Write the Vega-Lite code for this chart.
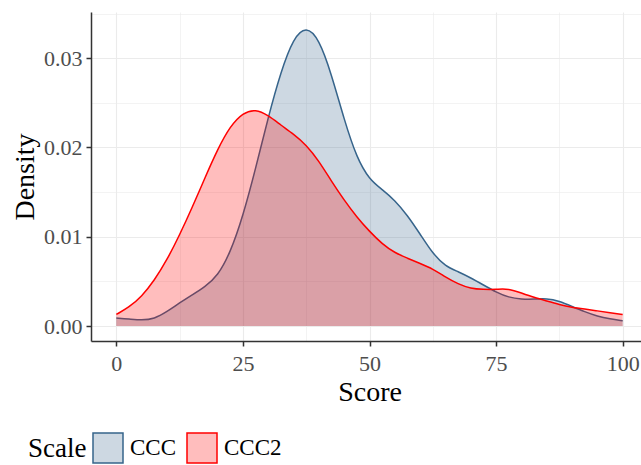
{
  "$schema": "https://vega.github.io/schema/vega-lite/v6.json",
  "autosize": {"type": "none"},
  "padding": {"left": 91, "top": 12, "right": 0, "bottom": 124},
  "width": 557,
  "height": 329,
  "background": "white",
  "config": {
    "font": "Liberation Serif",
    "view": {"stroke": null},
    "axis": {
      "gridColor": "#ebebeb",
      "labelFont": "Liberation Serif",
      "titleFont": "Liberation Serif",
      "titleFontWeight": "normal",
      "titleColor": "#000000",
      "labelColor": "#4d4d4d",
      "domainColor": "#333333",
      "tickColor": "#333333"
    }
  },
  "data": {
    "values": [
      {"Scale": "CCC", "Score": 0, "Density": 0.0009},
      {"Scale": "CCC", "Score": 2.5, "Density": 0.0008},
      {"Scale": "CCC", "Score": 5, "Density": 0.00065},
      {"Scale": "CCC", "Score": 7.5, "Density": 0.0008},
      {"Scale": "CCC", "Score": 10, "Density": 0.0016},
      {"Scale": "CCC", "Score": 12.5, "Density": 0.0026},
      {"Scale": "CCC", "Score": 15, "Density": 0.0035},
      {"Scale": "CCC", "Score": 17.5, "Density": 0.0044},
      {"Scale": "CCC", "Score": 20, "Density": 0.0056},
      {"Scale": "CCC", "Score": 22.5, "Density": 0.0082},
      {"Scale": "CCC", "Score": 25, "Density": 0.0123},
      {"Scale": "CCC", "Score": 27.5, "Density": 0.0176},
      {"Scale": "CCC", "Score": 30, "Density": 0.0234},
      {"Scale": "CCC", "Score": 32.5, "Density": 0.0285},
      {"Scale": "CCC", "Score": 35, "Density": 0.0323},
      {"Scale": "CCC", "Score": 37.5, "Density": 0.0336},
      {"Scale": "CCC", "Score": 40, "Density": 0.0322},
      {"Scale": "CCC", "Score": 42.5, "Density": 0.0282},
      {"Scale": "CCC", "Score": 45, "Density": 0.0231},
      {"Scale": "CCC", "Score": 47.5, "Density": 0.0188},
      {"Scale": "CCC", "Score": 50, "Density": 0.0164},
      {"Scale": "CCC", "Score": 52.5, "Density": 0.0153},
      {"Scale": "CCC", "Score": 55, "Density": 0.0141},
      {"Scale": "CCC", "Score": 57.5, "Density": 0.0124},
      {"Scale": "CCC", "Score": 60, "Density": 0.0103},
      {"Scale": "CCC", "Score": 62.5, "Density": 0.0081},
      {"Scale": "CCC", "Score": 65, "Density": 0.0067},
      {"Scale": "CCC", "Score": 67.5, "Density": 0.0061},
      {"Scale": "CCC", "Score": 70, "Density": 0.0054},
      {"Scale": "CCC", "Score": 72.5, "Density": 0.0046},
      {"Scale": "CCC", "Score": 75, "Density": 0.0038},
      {"Scale": "CCC", "Score": 77.5, "Density": 0.0032},
      {"Scale": "CCC", "Score": 80, "Density": 0.0030},
      {"Scale": "CCC", "Score": 82.5, "Density": 0.0030},
      {"Scale": "CCC", "Score": 85, "Density": 0.0031},
      {"Scale": "CCC", "Score": 87.5, "Density": 0.0028},
      {"Scale": "CCC", "Score": 90, "Density": 0.0022},
      {"Scale": "CCC", "Score": 92.5, "Density": 0.0016},
      {"Scale": "CCC", "Score": 95, "Density": 0.0011},
      {"Scale": "CCC", "Score": 97.5, "Density": 0.0008},
      {"Scale": "CCC", "Score": 100, "Density": 0.0006},
      {"Scale": "CCC2", "Score": 0, "Density": 0.0013},
      {"Scale": "CCC2", "Score": 2.5, "Density": 0.0021},
      {"Scale": "CCC2", "Score": 5, "Density": 0.0033},
      {"Scale": "CCC2", "Score": 7.5, "Density": 0.0051},
      {"Scale": "CCC2", "Score": 10, "Density": 0.0074},
      {"Scale": "CCC2", "Score": 12.5, "Density": 0.0102},
      {"Scale": "CCC2", "Score": 15, "Density": 0.0133},
      {"Scale": "CCC2", "Score": 17.5, "Density": 0.0166},
      {"Scale": "CCC2", "Score": 20, "Density": 0.0198},
      {"Scale": "CCC2", "Score": 22.5, "Density": 0.0224},
      {"Scale": "CCC2", "Score": 25, "Density": 0.0239},
      {"Scale": "CCC2", "Score": 27.5, "Density": 0.0243},
      {"Scale": "CCC2", "Score": 30, "Density": 0.0236},
      {"Scale": "CCC2", "Score": 32.5, "Density": 0.0225},
      {"Scale": "CCC2", "Score": 35, "Density": 0.0215},
      {"Scale": "CCC2", "Score": 37.5, "Density": 0.0203},
      {"Scale": "CCC2", "Score": 40, "Density": 0.0185},
      {"Scale": "CCC2", "Score": 42.5, "Density": 0.0162},
      {"Scale": "CCC2", "Score": 45, "Density": 0.0141},
      {"Scale": "CCC2", "Score": 47.5, "Density": 0.0122},
      {"Scale": "CCC2", "Score": 50, "Density": 0.0106},
      {"Scale": "CCC2", "Score": 52.5, "Density": 0.0092},
      {"Scale": "CCC2", "Score": 55, "Density": 0.0082},
      {"Scale": "CCC2", "Score": 57.5, "Density": 0.0076},
      {"Scale": "CCC2", "Score": 60, "Density": 0.0070},
      {"Scale": "CCC2", "Score": 62.5, "Density": 0.0064},
      {"Scale": "CCC2", "Score": 65, "Density": 0.0055},
      {"Scale": "CCC2", "Score": 67.5, "Density": 0.0047},
      {"Scale": "CCC2", "Score": 70, "Density": 0.0042},
      {"Scale": "CCC2", "Score": 72.5, "Density": 0.0041},
      {"Scale": "CCC2", "Score": 75, "Density": 0.0041},
      {"Scale": "CCC2", "Score": 77.5, "Density": 0.0042},
      {"Scale": "CCC2", "Score": 80, "Density": 0.0037},
      {"Scale": "CCC2", "Score": 82.5, "Density": 0.0032},
      {"Scale": "CCC2", "Score": 85, "Density": 0.0028},
      {"Scale": "CCC2", "Score": 87.5, "Density": 0.0024},
      {"Scale": "CCC2", "Score": 90, "Density": 0.0021},
      {"Scale": "CCC2", "Score": 92.5, "Density": 0.0019},
      {"Scale": "CCC2", "Score": 95, "Density": 0.0017},
      {"Scale": "CCC2", "Score": 97.5, "Density": 0.0015},
      {"Scale": "CCC2", "Score": 100, "Density": 0.0013}
    ]
  },
  "resolve": {"axis": {"x": "independent", "y": "independent"}},
  "layer": [
    {
      "transform": [{"filter": "datum.Scale === 'CCC'"}],
      "mark": {"type": "area", "interpolate": "basis", "fillOpacity": 1},
      "encoding": {
        "x": {"field": "Score", "type": "quantitative",
              "scale": {"domain": [-5, 105], "nice": false, "zero": false},
              "axis": {"orient": "top", "values": [12.5, 37.5, 62.5, 87.5], "grid": true, "gridWidth": 0.6, "labels": false, "ticks": false, "domain": false, "title": null}},
        "y": {"field": "Density", "type": "quantitative",
              "scale": {"domain": [-0.001675, 0.035175], "nice": false, "zero": false},
              "axis": {"orient": "right", "values": [0.005, 0.015, 0.025, 0.035], "grid": true, "gridWidth": 0.6, "labels": false, "ticks": false, "domain": false, "title": null}},
        "fill": {"field": "Scale", "type": "nominal",
                 "scale": {"domain": ["CCC", "CCC2"], "range": ["rgba(54,100,139,0.25)", "rgba(255,0,0,0.26)"]},
                 "legend": {"title": "Scale", "orient": "none", "legendX": -63, "legendY": 420, "direction": "horizontal", "titleOrient": "left", "titleFontSize": 27, "titleFontWeight": "normal", "titleColor": "#000000", "titleBaseline": "middle", "titlePadding": 5, "labelFontSize": 23, "labelColor": "#000000", "labelOffset": 6, "columnPadding": 7, "symbolType": "square", "symbolSize": 900, "symbolStrokeWidth": 1.5}}
      }
    },
    {
      "transform": [{"filter": "datum.Scale === 'CCC'"}],
      "mark": {"type": "line", "interpolate": "basis", "strokeWidth": 1.5},
      "encoding": {
        "x": {"field": "Score", "type": "quantitative",
              "axis": {"orient": "bottom", "values": [0, 25, 50, 75, 100], "grid": true, "gridWidth": 1.1, "title": "Score", "titleFontSize": 28, "titlePadding": 4, "labelFontSize": 22, "labelPadding": 7, "tickSize": 5, "tickWidth": 1.5, "domainWidth": 1.5}},
        "y": {"field": "Density", "type": "quantitative",
              "axis": {"orient": "left", "values": [0, 0.01, 0.02, 0.03], "format": ".2f", "grid": true, "gridWidth": 1.1, "title": "Density", "titleFontSize": 28, "titlePadding": 4, "labelFontSize": 22, "labelPadding": 4, "tickSize": 5, "tickWidth": 1.5, "domainWidth": 1.5}},
        "stroke": {"field": "Scale", "type": "nominal",
                   "scale": {"domain": ["CCC", "CCC2"], "range": ["#36648b", "#ff0000"]},
                   "legend": {"title": "Scale", "orient": "none", "legendX": -63, "legendY": 420, "direction": "horizontal", "titleOrient": "left", "symbolType": "square", "symbolSize": 900}}
      }
    },
    {
      "transform": [{"filter": "datum.Scale === 'CCC2'"}],
      "mark": {"type": "area", "interpolate": "basis", "fillOpacity": 1},
      "encoding": {
        "x": {"field": "Score", "type": "quantitative", "axis": null},
        "y": {"field": "Density", "type": "quantitative", "axis": null},
        "fill": {"field": "Scale", "type": "nominal"}
      }
    },
    {
      "transform": [{"filter": "datum.Scale === 'CCC2'"}],
      "mark": {"type": "line", "interpolate": "basis", "strokeWidth": 1.5},
      "encoding": {
        "x": {"field": "Score", "type": "quantitative", "axis": null},
        "y": {"field": "Density", "type": "quantitative", "axis": null},
        "stroke": {"field": "Scale", "type": "nominal"}
      }
    }
  ]
}
